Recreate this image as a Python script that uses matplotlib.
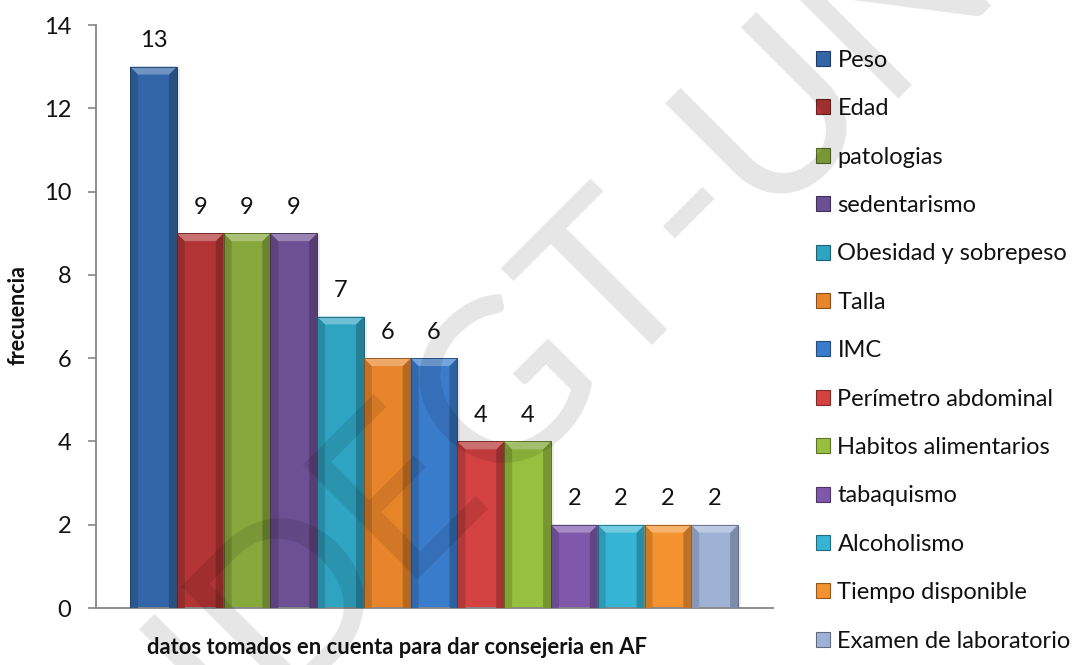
import matplotlib.pyplot as plt
import matplotlib.colors as mcolors
from matplotlib.patches import Polygon, Rectangle

plt.rcParams["font.family"] = ["Lato", "DejaVu Sans"]

categories = [
    "Peso", "Edad", "patologias", "sedentarismo", "Obesidad y sobrepeso",
    "Talla", "IMC", "Perímetro abdominal", "Habitos alimentarios",
    "tabaquismo", "Alcoholismo", "Tiempo disponible", "Examen de laboratorio",
]
values = [13, 9, 9, 9, 7, 6, 6, 4, 4, 2, 2, 2, 2]
colors = [
    "#3366a8", "#b23434", "#87a83c", "#6d4f94", "#2fa3c2", "#e8852a",
    "#3a7ccc", "#d44242", "#98c040", "#7f58ac", "#35b4d4", "#f49230", "#9fb2d6",
]
y_ticks = [0, 2, 4, 6, 8, 10, 12, 14]


def shade(color, amount):
    rgb = mcolors.to_rgb(color)
    if amount > 0:
        return tuple(c + (1 - c) * amount for c in rgb)
    return tuple(c * (1 + amount) for c in rgb)


fig = plt.figure(figsize=(10.92, 6.65), dpi=100)
ax = fig.add_axes([0.088, 0.0857, 0.62, 0.8767])

width = 1.0
bevel_x = 0.17
bevel_y = 0.19
for i, (value, color) in enumerate(zip(values, colors)):
    x0 = i - width / 2
    x1 = i + width / 2
    # soft shadow on the right
    ax.add_patch(Rectangle((x0 + 0.06, 0), width, value - 0.05, color="#000000",
                           alpha=0.08, lw=0, zorder=1))
    ax.bar(i, value, width=width, color=color, edgecolor=shade(color, -0.35),
           linewidth=0.6, zorder=2)
    # darker side strips
    ax.add_patch(Polygon([(x0, 0), (x0 + bevel_x, 0), (x0 + bevel_x, value - bevel_y), (x0, value)],
                         closed=True, color=shade(color, -0.15), lw=0, zorder=3))
    ax.add_patch(Polygon([(x1, 0), (x1 - bevel_x, 0), (x1 - bevel_x, value - bevel_y), (x1, value)],
                         closed=True, color=shade(color, -0.22), lw=0, zorder=3))
    # light top bevel
    ax.add_patch(Polygon([(x0, value), (x1, value), (x1 - bevel_x, value - bevel_y),
                          (x0 + bevel_x, value - bevel_y)],
                         closed=True, color=shade(color, 0.3), lw=0, zorder=3))
    ax.add_patch(Rectangle((x0, 0), width, value, fill=False,
                           edgecolor=shade(color, -0.4), lw=0.6, zorder=4))
    ax.annotate(str(value), (i, value), xytext=(0, 11), textcoords="offset points",
                ha="center", va="bottom", fontsize=17, color="#111111")

ax.set_xlim(-1.227, 13.25)
ax.set_ylim(0, 14)
ax.set_yticks(y_ticks)
ax.set_xticks([])
ax.tick_params(axis="y", direction="out", length=6, width=1.2, color="#868686",
               labelsize=17, pad=12, labelcolor="#111111")
for side in ["top", "right"]:
    ax.spines[side].set_visible(False)
for side in ["left", "bottom"]:
    ax.spines[side].set_color("#868686")
    ax.spines[side].set_linewidth(1.3)

fig.text(0.0165, 0.526, "frecuencia", rotation=90, ha="center", va="center",
         fontsize=15.5, fontweight="bold", color="#111111")
fig.text(0.364, 0.027, "datos tomados en cuenta para dar consejeria en AF",
         ha="center", va="center", fontsize=15.8, fontweight="bold", color="#111111")

handles = [Rectangle((0, 0), 1, 1, facecolor=c, edgecolor=shade(c, -0.4), lw=0.8)
           for c in colors]
fig.legend(handles, categories, loc="upper left", bbox_to_anchor=(0.728, 0.957),
           frameon=False, fontsize=17, handlelength=0.6, handleheight=0.6,
           handletextpad=0.3, labelspacing=1.16, labelcolor="#111111")

fig.text(0.54, 0.55, "UDEGT-UNA", rotation=45, ha="center", va="center",
         fontsize=163, color="#000000", alpha=0.1, zorder=10)

fig.savefig("out.png", dpi=100)
